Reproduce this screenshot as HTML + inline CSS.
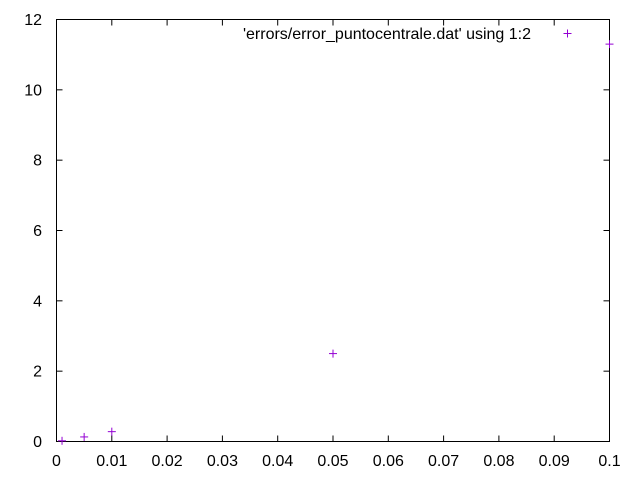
<!DOCTYPE html>
<html><head><meta charset="utf-8"><style>body{margin:0;background:#fff}svg{display:block}</style></head>
<body>
<svg id="chart" width="640" height="480" xmlns="http://www.w3.org/2000/svg" font-family="Liberation Sans, sans-serif" font-size="16"></svg>
<script>
const xValues = [0.001, 0.005, 0.01, 0.05, 0.1];
const yValues = [0.02, 0.13, 0.28, 2.5, 11.3];
const xTicks = [0,0.01,0.02,0.03,0.04,0.05,0.06,0.07,0.08,0.09,0.1];
const xTickLabels = ["0","0.01","0.02","0.03","0.04","0.05","0.06","0.07","0.08","0.09","0.1"];
const yTicks = [0,2,4,6,8,10,12];
const yTickLabels = ["0","2","4","6","8","10","12"];
const L=56.5,R=609.5,T=19.5,B=441.5;
const sx=v=>L+(v-0)/(0.1)*(R-L);
const sy=v=>B-(v-0)/12*(B-T);
const svg=document.getElementById('chart');
const NS='http://www.w3.org/2000/svg';
function mk(tag,attrs,parent){const e=document.createElementNS(NS,tag);for(const k in attrs)e.setAttribute(k,attrs[k]);(parent||svg).appendChild(e);return e;}
const axes=mk('g',{stroke:'#000','stroke-width':1});


xTicks.forEach((t,i)=>{
  const x=sx(t);
  mk('line',{x1:x,y1:B,x2:x,y2:B-6},axes);
  mk('line',{x1:x,y1:T,x2:x,y2:T+6},axes);
  const tx=mk('text',{x:x,y:466,'text-anchor':'middle',fill:'#000'});
  
  
  tx.textContent=xTickLabels[i];
});
yTicks.forEach((t,i)=>{
  const y=sy(t);
  mk('line',{x1:L,y1:y,x2:L+6,y2:y},axes);
  mk('line',{x1:R,y1:y,x2:R-6,y2:y},axes);
  const tx=mk('text',{x:42,y:y+5.5,'text-anchor':'end',fill:'#000'});
  
  
  tx.textContent=yTickLabels[i];
});
const frame=mk('rect',{x:L,y:T,width:R-L,height:B-T,fill:'none',stroke:'#000'});


function plus(x,y,g){mk('line',{x1:x-4,y1:y,x2:x+4,y2:y},g);mk('line',{x1:x,y1:y-4,x2:x,y2:y+4},g);}
const pts=mk('g',{stroke:'#9400d3','stroke-width':1});


xValues.forEach((v,i)=>plus(sx(v),sy(yValues[i]),pts));
const leg=mk('g',{});


const lt=mk('text',{x:531,y:39,'text-anchor':'end',fill:'#000'},leg);
lt.textContent="'errors/error_puntocentrale.dat' using 1:2";
const lm=mk('g',{stroke:'#9400d3'},leg);
plus(567.5,33.5,lm);
</script>
</body></html>
